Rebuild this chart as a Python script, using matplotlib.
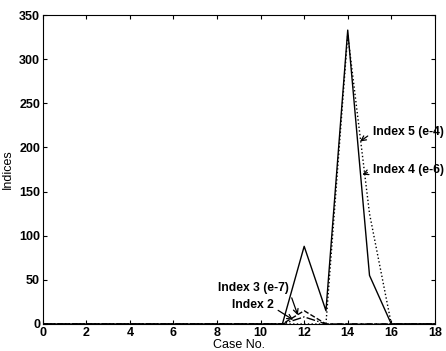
import matplotlib
matplotlib.use("Agg")
import matplotlib.pyplot as plt

plt.rcParams['font.family'] = ['Liberation Sans', 'DejaVu Sans']

# datos
casos = [0, 1, 2, 3, 4, 5, 6, 7, 8, 9, 10, 11, 12, 13, 14, 15, 16, 17, 18]
indice_5 = [0, 0, 0, 0, 0, 0, 0, 0, 0, 0, 0, 0, 88, 15, 333, 55, 0, 0, 0]
indice_4 = [0, 0, 0, 0, 0, 0, 0, 0, 0, 0, 0, 0, 0, 0, 328, 125, 0, 0, 0]
indice_3 = [0, 0, 0, 0, 0, 0, 0, 0, 0, 0, 0, 0, 15, 0, 0, 0, 0, 0, 0]
indice_2 = [0, 0, 0, 0, 0, 0, 0, 0, 0, 0, 0, 0, 8, 0, 0, 0, 0, 0, 0]

x_ticks = [0, 2, 4, 6, 8, 10, 12, 14, 16, 18]
y_ticks = [0, 50, 100, 150, 200, 250, 300, 350]

fig = plt.figure(figsize=(4.46, 3.51), dpi=100)
ax = fig.add_axes([0.096, 0.077, 0.879, 0.88])

ax.plot(casos, indice_5, color='black', linewidth=1.0, linestyle='-')
ax.plot(casos, indice_4, color='black', linewidth=1.0, linestyle=':')
ax.plot(casos, indice_3, color='black', linewidth=1.0, linestyle='--')
ax.plot(casos, indice_2, color='black', linewidth=1.0, linestyle='-.')

ax.set_xlim(0, 18)
ax.set_ylim(0, 350)
ax.set_xticks(x_ticks)
ax.set_yticks(y_ticks)
ax.tick_params(direction='in', top=True, right=True, length=3, labelsize=9, pad=2)
for lbl in ax.get_xticklabels() + ax.get_yticklabels():
    lbl.set_fontweight('bold')

ax.set_xlabel('Case No.', fontsize=9, labelpad=0)
ax.set_ylabel('Indices', fontsize=9, labelpad=4)

# anotaciones con flechas
flecha_izq = dict(arrowstyle='->', color='black', lw=0.9, relpos=(0, 0.5), shrinkA=2)
flecha_der = dict(arrowstyle='->', color='black', lw=0.9, relpos=(1, 0.3), shrinkA=1)
ax.annotate('Index 5 (e-4)', xy=(14.46, 205), xytext=(15.15, 217),
            fontsize=8.7, fontweight='bold', va='center', arrowprops=flecha_izq)
ax.annotate('Index 4 (e-6)', xy=(14.55, 168), xytext=(15.15, 174),
            fontsize=8.7, fontweight='bold', va='center', arrowprops=flecha_izq)
ax.annotate('Index 3 (e-7)', xy=(11.75, 7), xytext=(8.05, 41),
            fontsize=8.7, fontweight='bold', va='center', arrowprops=flecha_der)
ax.annotate('Index 2', xy=(11.6, 3), xytext=(8.7, 21),
            fontsize=8.7, fontweight='bold', va='center', arrowprops=flecha_der)

fig.savefig('out.png', dpi=100)
